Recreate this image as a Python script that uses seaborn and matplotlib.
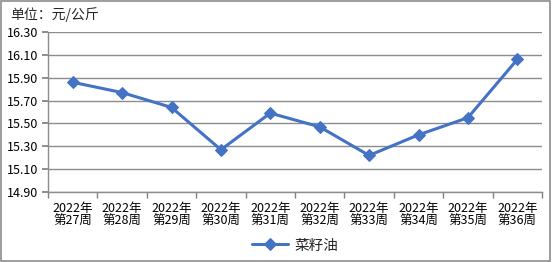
import matplotlib
matplotlib.use("Agg")
import matplotlib.pyplot as plt
import seaborn as sns
import pandas as pd
import numpy as np

weeks = ["2022年\n第27周", "2022年\n第28周", "2022年\n第29周", "2022年\n第30周", "2022年\n第31周",
         "2022年\n第32周", "2022年\n第33周", "2022年\n第34周", "2022年\n第35周", "2022年\n第36周"]
values = [15.86, 15.77, 15.64, 15.27, 15.59, 15.47, 15.22, 15.40, 15.55, 16.06]
yticks = [14.90, 15.10, 15.30, 15.50, 15.70, 15.90, 16.10, 16.30]
series_name = "菜籽油"
unit_label = "单位：元/公斤"

sns.set_theme(style="white")
plt.rcParams['font.family'] = ['Noto Sans CJK SC', 'DejaVu Sans']

df = pd.DataFrame({"week": weeks, "value": values, "series": series_name})

fig = plt.figure(figsize=(5.52, 2.62), dpi=100)
ax = fig.add_axes([48/552, 1-192/262, (542-48)/552, 160/262])

color = "#4472C4"
sns.lineplot(data=df, x="week", y="value", hue="series", palette=[color], ax=ax,
             marker="D", markersize=6, linewidth=2.2, markeredgecolor=color, sort=False)

ax.set_ylim(14.90, 16.30)
ax.set_xlim(-0.5, len(weeks) - 0.5)
ax.set_yticks(yticks)
ax.set_yticklabels([f"{v:.2f}" for v in yticks], fontsize=9, color="#000000")
ax.set_xticks(range(len(weeks)))
ax.set_xticklabels(weeks, fontsize=9, color="#000000", linespacing=1.05)
ax.set_xticks(np.arange(-0.5, len(weeks)), minor=True)
ax.tick_params(axis="x", which="major", length=0, pad=7)
ax.tick_params(axis="x", which="minor", length=4, color="#808080", direction="out", bottom=True)
ax.tick_params(axis="y", length=4, color="#808080", direction="out", left=True, pad=3)
ax.set_xlabel("")
ax.set_ylabel("")
ax.yaxis.grid(True, color="#8c8c8c", linewidth=1)
ax.set_axisbelow(True)
for s in ["top", "right"]:
    ax.spines[s].set_visible(False)
for s in ["left", "bottom"]:
    ax.spines[s].set_color("#8c8c8c")
    ax.spines[s].set_linewidth(1)

leg = ax.legend(loc="center", bbox_to_anchor=(0.5, -0.335), frameon=False,
                fontsize=10.5, handlelength=2.5, handletextpad=0.4, borderpad=0)

fig.text(10/552, 1-15/262, unit_label, fontsize=10, va="center", ha="left")

border = plt.Rectangle((0.002, 0.004), 0.995, 0.992, transform=fig.transFigure,
                       fill=False, edgecolor="#8c8c8c", linewidth=1.2)
fig.patches.append(border)

fig.savefig("out.png", dpi=100)
